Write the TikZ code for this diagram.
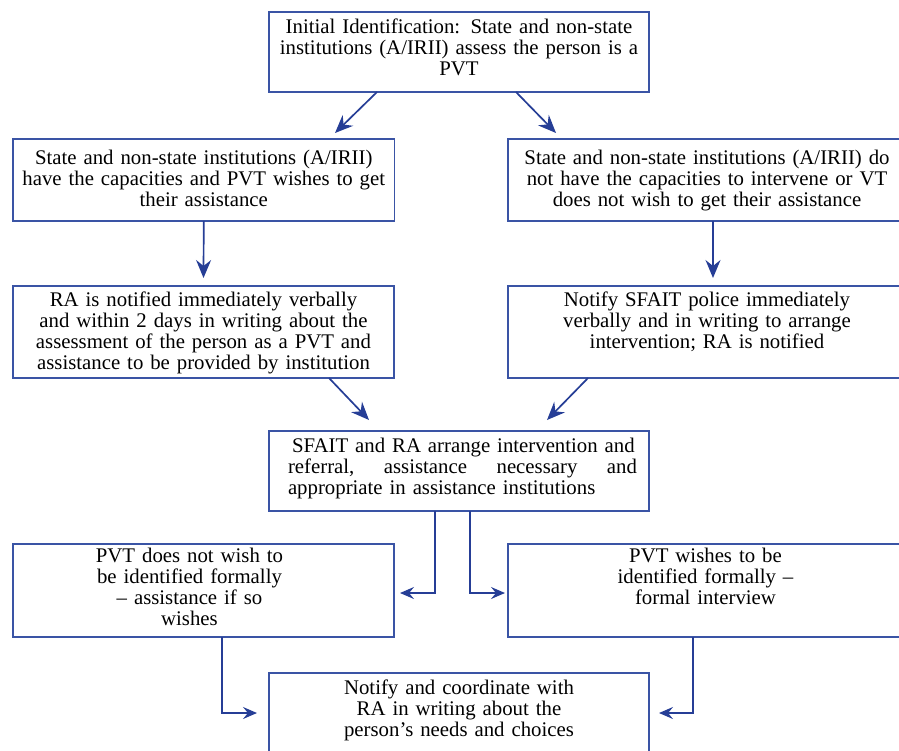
\documentclass[tikz,border=0pt]{standalone}
\usepackage{fontspec}
\setmainfont{Liberation Serif}
\usetikzlibrary{arrows.meta}
\definecolor{boxblue}{RGB}{58,84,165}
\definecolor{arrblue}{RGB}{38,62,150}
\begin{document}
\begin{tikzpicture}[x=1pt,y=-1pt,
  box/.style={draw=boxblue, line width=1.4pt, inner xsep=3pt, inner ysep=0pt, outer sep=0pt, anchor=north west, font=\fontsize{20.8}{21}\selectfont},
  arr/.style={draw=arrblue, line width=1.7pt, -{Stealth[length=18pt,width=15pt,inset=6pt]}},
  sarr/.style={draw=arrblue, line width=1.6pt, -{Stealth[length=14pt,width=12pt,inset=5pt]}}]
\useasboundingbox (0,0) rectangle (899,750);
\clip (0,0) rectangle (899,750);

\node[box, text width=374pt, text height=21.5pt, text depth=58.5pt] (B1) at (269,12)
  {\centering Initial Identification: State and non-state\\ institutions (A/IRII) assess the person is a\\ PVT\par};

\node[box, text width=375.5pt, text height=25pt, text depth=57pt] (B2L) at (13,139)
  {\centering State and non-state institutions (A/IRII)\\ have the capacities and PVT wishes to get\\ their assistance\par};

\node[box, text width=392pt, text height=25pt, text depth=57pt] (B2R) at (508,139)
  {\centering State and non-state institutions (A/IRII) do\\ not have the capacities to intervene or VT\\ does not wish to get their assistance\par};

\node[box, text width=375pt, text height=20pt, text depth=72pt] (B3L) at (13,286)
  {\centering RA is notified immediately verbally\\ and within 2 days in writing about the\\ assessment of the person as a PVT and\\ assistance to be provided by institution\par};

\node[box, text width=392pt, text height=20pt, text depth=72pt] (B3R) at (508,286)
  {\centering Notify SFAIT police immediately\\ verbally and in writing to arrange\\ intervention; RA is notified\par};

\node[box, text width=374pt, text height=21pt, text depth=59pt] (BM) at (269,431)
  {\hspace*{16pt}\parbox[t]{349pt}{\mbox{\hspace*{4pt}SFAIT and RA arrange intervention and}\\
   \hbox to 349pt{referral,\hfill assistance\hfill necessary\hfill and}
   \mbox{appropriate in assistance institutions}}\par};

\node[box, text width=375pt, text height=18pt, text depth=75pt] (B4L) at (13,544)
  {\centering\rightskip=28pt plus 1fil PVT does not wish to\\ be identified formally\\ -- assistance if so\\ wishes\par};

\node[box, text width=392pt, text height=18pt, text depth=75pt] (B4R) at (508,544)
  {\centering\rightskip=3pt plus 1fil PVT wishes to be\\ identified formally --\\ formal interview\par};

\node[box, text width=374pt, text height=21pt, text depth=59pt] (BB) at (269,673)
  {\centering Notify and coordinate with\\ RA in writing about the\\ person’s needs and choices\par};

\draw[arr] ([xshift=-82pt]B1.south) -- ([xshift=131.25pt,yshift=6pt]B2L.north);
\draw[arr] ([xshift=57pt]B1.south) -- ([xshift=-151pt,yshift=6pt]B2R.north);
\draw[arr] (B2L.south) -- ([yshift=8pt]B3L.north);
\draw[arr] ([xshift=6pt]B2R.south) -- ([xshift=6pt,yshift=8pt]B3R.north);
\draw[arr] ([xshift=125.5pt]B3L.south) -- ([xshift=-90pt,yshift=11pt]BM.north);
\draw[arr] ([xshift=-119pt]B3R.south) -- ([xshift=88pt,yshift=11pt]BM.north);
\draw[sarr] ([xshift=-24pt]BM.south) |- ([xshift=6pt,yshift=-2.5pt]B4L.east);
\draw[sarr] ([xshift=11pt]BM.south) |- ([xshift=-3pt,yshift=-2.5pt]B4R.west);
\draw[sarr] ([xshift=18.5pt]B4L.south) |- ([xshift=-12pt]BB.west);
\draw[sarr] ([xshift=-14pt]B4R.south) |- ([xshift=10pt]BB.east);
\end{tikzpicture}
\end{document}
